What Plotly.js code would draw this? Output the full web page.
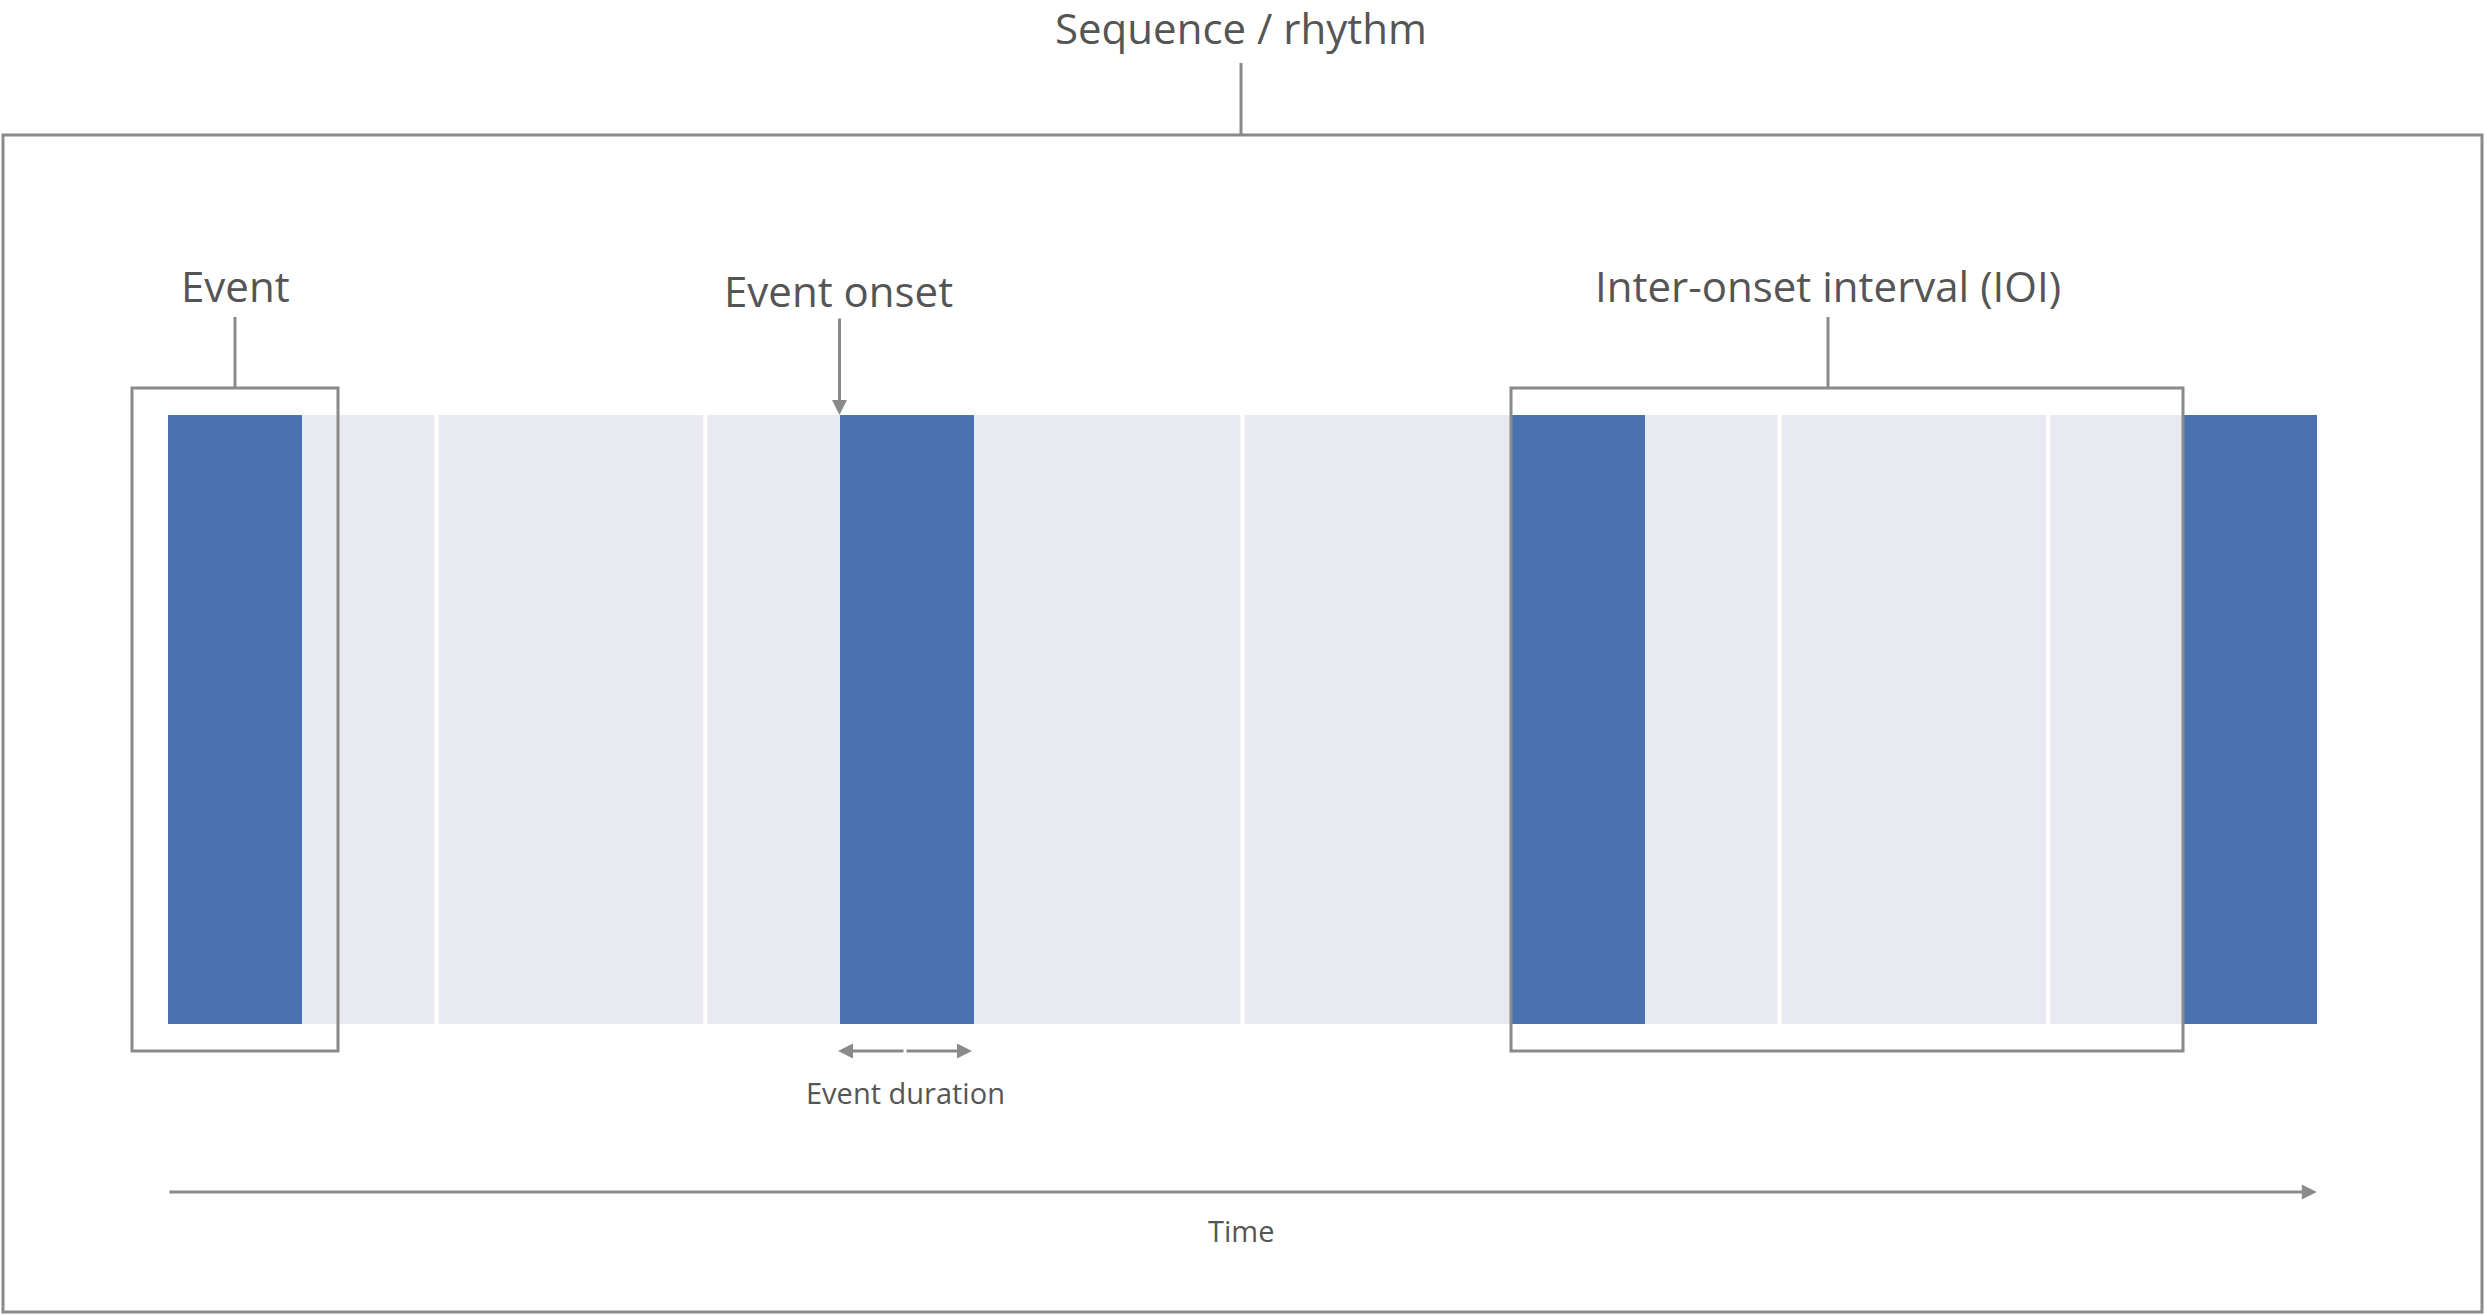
<!DOCTYPE html>
<html>
<head>
<meta charset="utf-8">
<script src="https://cdn.plot.ly/plotly-3.0.1.min.js"></script>
<style>html,body{margin:0;padding:0;background:#fff}</style>
</head>
<body>
<div id="chart" style="width:2485px;height:1316px"></div>
<script>
// Sequence split into 16 time slots; each segment has start slot, length, kind
const segStart = [0, 1, 2, 4, 5, 6, 8, 10, 11, 12, 14, 15];
const segLength = [1, 1, 2, 1, 1, 2, 2, 1, 1, 2, 1, 1];
const segKind = ['event', 'rest', 'rest', 'rest', 'event', 'rest', 'rest', 'event', 'rest', 'rest', 'rest', 'event'];
const separators = [2, 4, 8, 12, 14];

const BLUE = '#4a72b0', REST = '#e9e9f2', LINE = '#8a8a8a', TEXT = '#555555';
const FONT = 'Open Sans, Lato, sans-serif';

// y axis runs in picture pixels (top=0); x axis in slots
const x0px = 168, slotPx = 134.3;
const px = v => (v - x0px) / slotPx;
const barTop = 415, barBottom = 1024;

const trace = {
    type: 'bar',
    x: segStart.map((s, i) => s + segLength[i] / 2),
    width: segLength,
    y: segLength.map(() => barBottom - barTop),
    base: barTop,
    marker: { color: segKind.map(k => k === 'event' ? BLUE : REST), line: { width: 0 } },
    hoverinfo: 'skip'
};

const shapes = [];
for (const s of separators) {
    shapes.push({ type: 'line', x0: s, x1: s, y0: barTop, y1: barBottom, line: { color: '#ffffff', width: 4 } });
}
const grey = { color: LINE, width: 3 };
shapes.push({ type: 'rect', x0: px(3), x1: px(2482), y0: 135, y1: 1312, line: grey });
shapes.push({ type: 'line', x0: px(1241), x1: px(1241), y0: 63, y1: 135, line: grey });
// Event box
shapes.push({ type: 'rect', x0: px(132), x1: px(338), y0: 388, y1: 1051, line: grey });
shapes.push({ type: 'line', x0: px(235), x1: px(235), y0: 317, y1: 388, line: grey });
// IOI box
shapes.push({ type: 'rect', x0: px(1511), x1: px(2183), y0: 388, y1: 1051, line: grey });
shapes.push({ type: 'line', x0: px(1828), x1: px(1828), y0: 317, y1: 388, line: grey });

const arrow = (x, y, ax, ay) => ({
    x: x, y: y, ax: ax, ay: ay, xref: 'x', yref: 'y', axref: 'x', ayref: 'y',
    text: '', showarrow: true, arrowhead: 2, arrowsize: 1, arrowwidth: 3, arrowcolor: LINE
});
const label = (x, y, text, size) => ({
    x: px(x), y: y, xref: 'x', yref: 'y', text: text, showarrow: false,
    font: { family: FONT, size: size, color: TEXT }
});

const annotations = [
    label(1241, 27, 'Sequence / rhythm', 42),
    label(235, 285, 'Event', 42),
    label(838, 290, 'Event onset', 42),
    label(1828, 285, 'Inter-onset interval (IOI)', 42),
    label(905, 1092, 'Event duration', 29),
    label(1241, 1230, 'Time', 29),
    arrow(5, barTop, 5, 317),
    arrow(px(838), 1051, px(905), 1051),
    arrow(px(972), 1051, px(905), 1051),
    arrow(16, 1192, 0, 1192)
];

const layout = {
    width: 2485, height: 1316,
    margin: { l: 0, r: 0, t: 0, b: 0 },
    paper_bgcolor: '#fff', plot_bgcolor: '#fff',
    showlegend: false, bargap: 0,
    xaxis: { range: [px(0), px(2485)], visible: false, fixedrange: true },
    yaxis: { range: [1316, 0], visible: false, fixedrange: true },
    shapes: shapes,
    annotations: annotations
};

Plotly.newPlot('chart', [trace], layout, { staticPlot: true });
</script>
</body>
</html>
